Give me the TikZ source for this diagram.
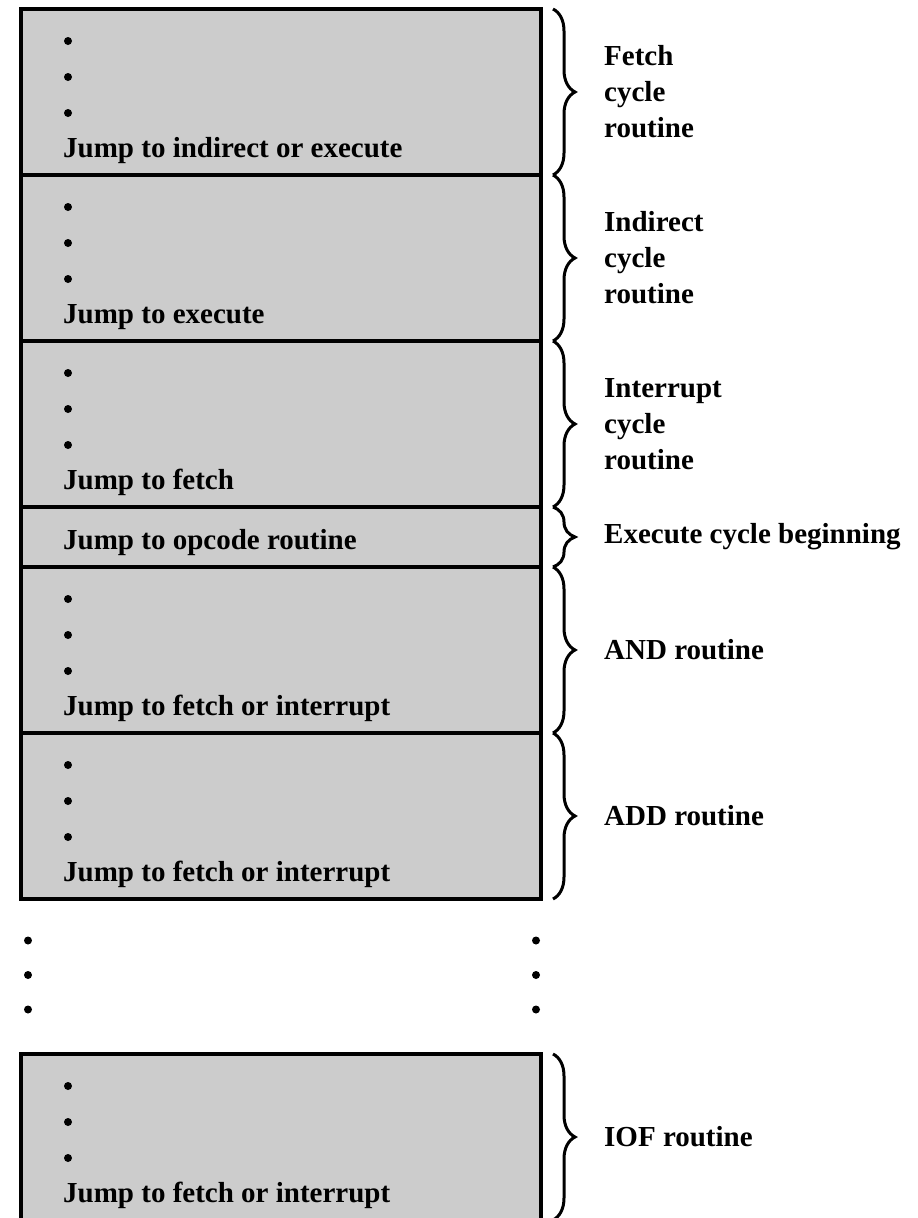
\documentclass[tikz,border=0pt]{standalone}
\usepackage{fontspec}
\setmainfont{Liberation Serif}
\usepackage{tikz}
\usetikzlibrary{positioning,decorations.pathreplacing}
\def\boxwidth{520pt}
\def\boxheight{166pt}
\tikzstyle{brace} = [decorate,decoration={brace,amplitude=22pt},line width=3pt]

\begin{document}
\begin{tikzpicture}[x=1pt,y=-1pt,font=\fontsize{29}{36}\selectfont\bfseries]
    \tikzstyle{routine}=[draw=black,line width=3.5pt,fill=black!20,minimum width=\boxwidth,minimum height=\boxheight,inner sep=0pt,outer sep=0pt]
    \tikzstyle{dot}=[circle,fill=black,minimum size=8pt,inner sep=0pt]
    \tikzstyle{jump}=[anchor=base west,inner sep=0pt]
    \tikzstyle{annot}=[anchor=west,align=left,inner sep=0pt]

    \useasboundingbox (0,0) rectangle (918,1218);

    % Draw the routine boxes
    \node[routine,anchor=north west] (fetch) at (21,9) {};
    \node[routine,below=0pt of fetch] (indirect) {};
    \node[routine,below=0pt of indirect] (interrupt) {};
    \node[routine,below=0pt of interrupt,minimum height=60pt] (execute) {};
    \node[routine,below=0pt of execute] (and) {};
    \node[routine,below=0pt of and] (add) {};
    \node[routine,below=155pt of add] (iof) {};

    % Dots and jumps inside the boxes
    \foreach \name / \txt in {fetch/Jump to indirect or execute,indirect/Jump to execute,
            interrupt/Jump to fetch,and/Jump to fetch or interrupt,
            add/Jump to fetch or interrupt,iof/Jump to fetch or interrupt}
    {
        \foreach \k in {1,2,3}
            \node[dot] (\name-d\k) at ([shift={(47,-4+36*\k)}]\name.north west) {};
        \node[jump] (\name-j) at ([shift={(42,148)}]\name.north west) {\txt};
    }
    \node[jump] (execute-j) at ([shift={(42,42)}]execute.north west) {Jump to opcode routine};

    % Dots between the boxes
    \foreach \k in {1,2,3}
    {
        \node[dot] (gap-l\k) at ([shift={(7,7+34.5*\k)}]add.south west) {};
        \node[dot] (gap-r\k) at ([shift={(-5,7+34.5*\k)}]add.south east) {};
    }

    % Braces and their labels
    \foreach \name / \txt in {fetch/Fetch\\cycle\\routine,indirect/Indirect\\cycle\\routine,
            interrupt/Interrupt\\cycle\\routine,execute/Execute cycle beginning,
            and/AND routine,add/ADD routine,iof/IOF routine}
    {
        \draw[brace] ([xshift=12pt]\name.north east) -- ([xshift=12pt]\name.south east);
        \node[annot] (\name-l) at ([xshift=63pt]\name.east) {\txt};
    }
\end{tikzpicture}
\end{document}
